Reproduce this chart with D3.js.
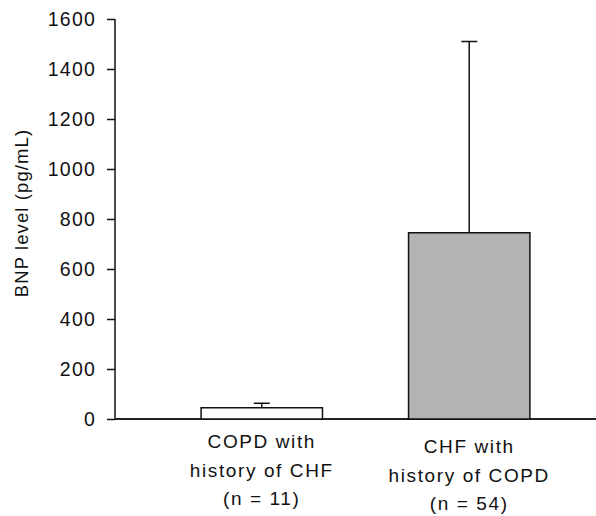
<!DOCTYPE html>
<html lang="en">
<head>
    <meta charset="UTF-8">
    <title>BNP level</title>
    <script src="https://d3js.org/d3.v7.min.js"></script>
    <style>
        body { margin: 0; background: #fff; }
        text { font-family: "Liberation Sans", Arial, sans-serif; fill: #111; }
    </style>
</head>
<body>
    <div id="chart"></div>
    <script>
        // data
        var groups = ["copd", "chf"];
        var labelLines = [
            ["COPD with", "history of CHF", "(n = 11)"],
            ["CHF with", "history of COPD", "(n = 54)"]
        ];
        var means = [45, 745];
        var upperErr = [63, 1510];
        var yTicks = [0, 200, 400, 600, 800, 1000, 1200, 1400, 1600];
        var fills = ["#ffffff", "#b3b3b3"];

        var width = 596, height = 516;
        var axisX = 115;

        var svg = d3.select("#chart")
            .append("svg")
            .attr("width", width)
            .attr("height", height);

        var y = d3.scaleLinear()
            .domain([0, 1600])
            .range([419, 19]);

        var x = d3.scaleBand()
            .domain(groups)
            .range([axisX, 616])
            .paddingInner(0.415)
            .paddingOuter(0.415);

        // y axis
        var yAxis = d3.axisLeft(y)
            .tickValues(yTicks)
            .tickSize(8)
            .tickPadding(11)
            .tickFormat(d3.format("d"));

        var gy = svg.append("g")
            .attr("transform", "translate(" + axisX + ",0)")
            .call(yAxis);
        gy.select(".domain").remove();
        gy.append("line")
            .attr("x1", 0).attr("x2", 0)
            .attr("y1", y(1600)).attr("y2", y(0))
            .attr("stroke", "#111").attr("stroke-width", 1.5);
        gy.selectAll(".tick line").attr("stroke", "#111").attr("stroke-width", 1.5);
        gy.selectAll(".tick text")
            .attr("font-size", "19.5px")
            .attr("letter-spacing", "1.2px")
            .attr("font-family", "Liberation Sans, Arial, sans-serif")
            .attr("fill", "#111");

        // x axis line
        svg.append("line")
            .attr("x1", axisX)
            .attr("x2", width)
            .attr("y1", y(0))
            .attr("y2", y(0))
            .attr("stroke", "#222")
            .attr("stroke-width", 2);

        // y label
        svg.append("text")
            .attr("transform", "translate(28," + ((y(0) + y(1600)) / 2 - 6) + ") rotate(-90)")
            .attr("text-anchor", "middle")
            .attr("font-size", "18.5px")
            .attr("letter-spacing", "1.1px")
            .text("BNP level (pg/mL)");

        // error bars (upper only)
        var errG = svg.append("g");
        groups.forEach(function(g, i) {
            var cx = x(g) + x.bandwidth() / 2;
            errG.append("line")
                .attr("x1", cx).attr("x2", cx)
                .attr("y1", y(means[i])).attr("y2", y(upperErr[i]))
                .attr("stroke", "#111").attr("stroke-width", 1.5);
            errG.append("line")
                .attr("x1", cx - 8).attr("x2", cx + 8)
                .attr("y1", y(upperErr[i])).attr("y2", y(upperErr[i]))
                .attr("stroke", "#111").attr("stroke-width", 1.5);
        });

        // bars
        svg.selectAll("rect.bar")
            .data(groups)
            .enter()
            .append("rect")
            .attr("class", "bar")
            .attr("x", function(d) { return x(d); })
            .attr("y", function(d, i) { return y(means[i]); })
            .attr("width", x.bandwidth())
            .attr("height", function(d, i) { return y(0) - y(means[i]); })
            .attr("fill", function(d, i) { return fills[i]; })
            .attr("stroke", "#111")
            .attr("stroke-width", 1.5);

        // category labels
        var labelTop = [448, 453];
        groups.forEach(function(g, i) {
            var t = svg.append("text")
                .attr("text-anchor", "middle")
                .attr("font-size", "19px")
                .attr("letter-spacing", "1.6px");
            labelLines[i].forEach(function(line, j) {
                t.append("tspan")
                    .attr("x", x(g) + x.bandwidth() / 2)
                    .attr("y", labelTop[i] + j * 28.5)
                    .text(line);
            });
        });
    </script>
</body>
</html>
